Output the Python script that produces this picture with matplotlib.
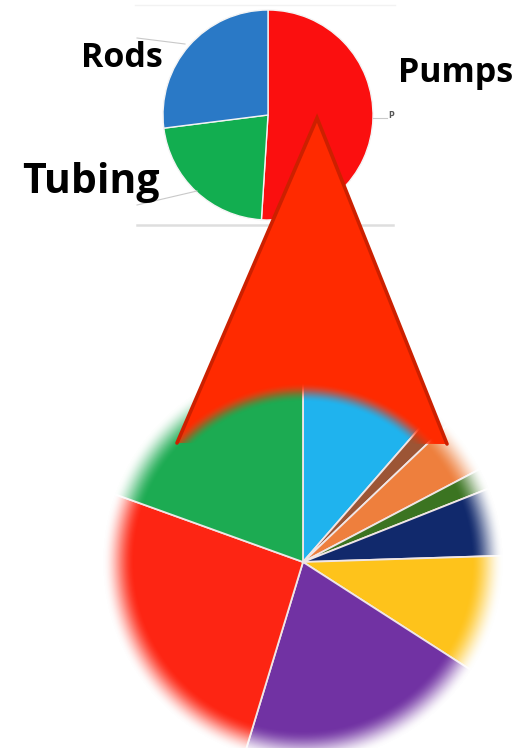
import numpy as np
import matplotlib
matplotlib.use("Agg")
import matplotlib.pyplot as plt
from matplotlib.patches import Polygon

# Overall split of the top pie
main_categories = ["Pumps", "Tubing", "Rods"]
main_shares = [51, 22, 27]
main_colors = ["#fb0f0f", "#12ae50", "#2a79c6"]

# Breakdown shown in the lower, enlarged pie
detail_shares = [11.4, 1.5, 4.4, 1.7, 5.5, 9.6, 20.6, 25.8, 19.5]
detail_colors = ["#1fb3ee", "#9c5535", "#ee7f3d", "#3b7421", "#11296c",
                 "#fec31b", "#7132a3", "#fd2513", "#1cab52"]

W, H = 522, 748
fig = plt.figure(figsize=(W / 100, H / 100), dpi=100)
ax = fig.add_axes([0, 0, 1, 1])


def fy(y):
    # pixel row (from the top) -> data y
    return H - y


# ---- lower, enlarged pie ----
big_c = (303, 562)
ax.pie(detail_shares, colors=detail_colors, startangle=90, counterclock=False,
       center=(big_c[0], fy(big_c[1])), radius=210, frame=False,
       wedgeprops=dict(edgecolor="#f0e6e6", linewidth=1.3, zorder=1))

# soft white fade round the enlarged pie
yy, xx = np.mgrid[0:H, 0:W] + 0.5
rr = np.hypot(xx - big_c[0], yy - big_c[1])


def smooth(r, a, b):
    t = np.clip((r - a) / (b - a), 0, 1)
    return t * t * (3 - 2 * t)


fade = np.ones((H, W, 4))
fade[..., 3] = smooth(rr, 168, 200)
ax.imshow(fade, extent=(0, W, 0, H), origin="upper", zorder=2,
          interpolation="bilinear")

# ---- top pie ----
top_c = (268, 115)
ax.pie(main_shares, colors=main_colors, startangle=90, counterclock=False,
       center=(top_c[0], fy(top_c[1])), radius=105, frame=False,
       wedgeprops=dict(edgecolor="#f4f4f4", linewidth=1.0, zorder=3))

# frame lines and leader lines of the top pie
ax.plot([135, 395], [fy(5), fy(5)], color="#f2f2f2", lw=1.0, zorder=3)
ax.plot([137, 393], [fy(225), fy(225)], color="#dedede", lw=1.8, zorder=3)
ax.plot([137, 185], [fy(38), fy(44)], color="#c9c9c9", lw=0.8, zorder=3)
ax.plot([137, 197], [fy(205), fy(191)], color="#c9c9c9", lw=0.8, zorder=3)
ax.plot([373, 387], [fy(118), fy(118)], color="#c9c9c9", lw=0.8, zorder=3)
ax.text(388, fy(118), "P", fontsize=5.5, color="#555555", ha="left",
        va="baseline", fontweight="bold", zorder=3)

# ---- zoom triangle linking the two pies ----
tri = [(317, fy(118)), (177, fy(443)), (447, fy(444))]
tri_patch = Polygon(tri, closed=True, transform=ax.transData)
tri_img = np.zeros((H, W, 4))
tri_img[..., 0] = 1.0
tri_img[..., 1] = 0x2a / 255
tri_img[..., 2] = 0.0
tri_img[..., 3] = smooth(rr, 160, 179)
im = ax.imshow(tri_img, extent=(0, W, 0, H), origin="upper", zorder=4,
               interpolation="bilinear")
im.set_clip_path(tri_patch)
ax.plot([177, 317, 447], [fy(443), fy(118), fy(444)], color="#cc2000",
        lw=2.6, solid_joinstyle="miter", solid_capstyle="round", zorder=5)

# ---- category labels ----
lab_font = dict(family=["Open Sans", "DejaVu Sans"], fontweight="bold",
                color="black", ha="left", va="baseline", zorder=6)
ax.text(81, fy(67), main_categories[2], fontsize=24.5, **lab_font)
ax.text(398, fy(82), main_categories[0], fontsize=24.5, **lab_font)
ax.text(22, fy(193), main_categories[1], fontsize=29.5, **lab_font)

ax.set_xlim(0, W)
ax.set_ylim(0, H)
ax.set_aspect("equal")
ax.axis("off")

fig.savefig("out.png", dpi=100, facecolor="white")
